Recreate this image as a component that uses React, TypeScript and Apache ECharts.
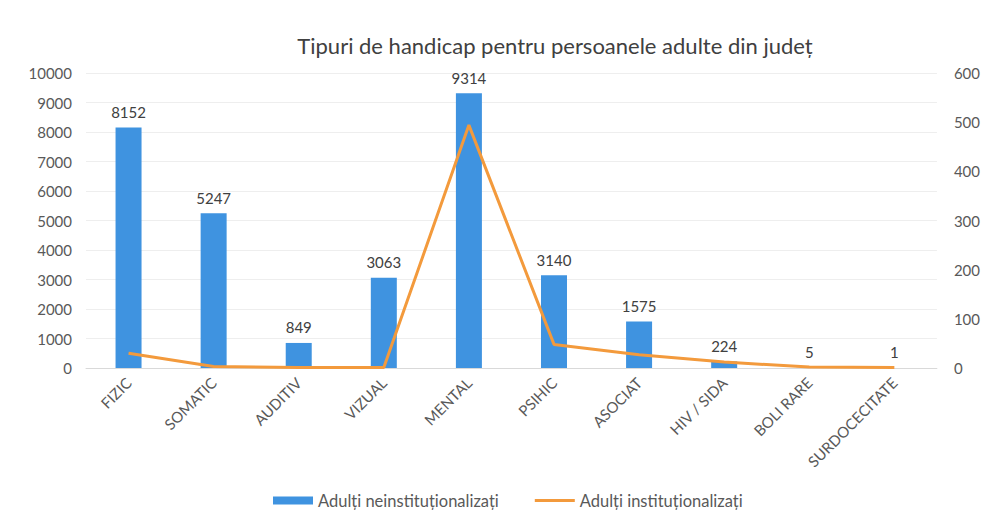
import React, { useEffect, useRef } from "react";
import * as echarts from "echarts";

const categories = ["FIZIC", "SOMATIC", "AUDITIV", "VIZUAL", "MENTAL", "PSIHIC", "ASOCIAT", "HIV / SIDA", "BOLI RARE", "SURDOCECITATE"];
const neinstitutionalizati = [8152, 5247, 849, 3063, 9314, 3140, 1575, 224, 5, 1];
const institutionalizati = [30, 3, 1, 1, 494, 48, 27, 12, 2, 1];
const titleText = "Tipuri de handicap pentru persoanele adulte din județ";
const seriesNames = ["Adulți neinstituționalizați", "Adulți instituționalizați"];

const FONT = "Lato, 'Open Sans', sans-serif";

export default function App() {
  const ref = useRef<HTMLDivElement>(null);
  useEffect(() => {
    if (!ref.current) return;
    const chart = echarts.init(ref.current, undefined, { renderer: "svg" });
    chart.setOption({
      animation: false,
      backgroundColor: "#ffffff",
      textStyle: { fontFamily: FONT },
      title: {
        text: titleText,
        left: 550,
        top: 29,
        textAlign: "center",
        textStyle: { fontSize: 22, fontWeight: "normal", color: "#404040", fontFamily: FONT },
      },
      legend: {
        top: 487,
        left: 268,
        itemGap: 36,
        itemWidth: 40,
        itemHeight: 8,
        textStyle: { fontSize: 16.5, color: "#595959", fontFamily: FONT },
        data: [
          { name: seriesNames[0], icon: "rect" },
          { name: seriesNames[1], icon: "path://M0,0H40V3H0Z" },
        ],
      },
      grid: { left: 86, right: 45, top: 73, bottom: 147, containLabel: false },
      xAxis: {
        type: "category",
        data: categories,
        axisTick: { show: false },
        axisLine: { lineStyle: { color: "#d9d9d9" } },
        axisLabel: { rotate: 45, fontSize: 15, color: "#595959", margin: 12, interval: 0, fontFamily: FONT },
      },
      yAxis: [
        {
          type: "value",
          min: 0,
          max: 10000,
          interval: 1000,
          axisLabel: { fontSize: 15, color: "#595959", margin: 14, fontFamily: FONT, formatter: (v: number) => String(v) },
          splitLine: { lineStyle: { color: "#eeeeee" } },
          axisLine: { show: false },
        },
        {
          type: "value",
          min: 0,
          max: 600,
          interval: 100,
          axisLabel: { fontSize: 15, color: "#595959", margin: 17, fontFamily: FONT, formatter: (v: number) => String(v) },
          splitLine: { show: false },
          axisLine: { show: false },
        },
      ],
      series: [
        {
          name: seriesNames[0],
          type: "bar",
          data: neinstitutionalizati,
          barWidth: 26,
          itemStyle: { color: "#3f93e0" },
          label: { show: true, position: "top", fontSize: 15, color: "#404040", distance: 8, fontFamily: FONT },
        },
        {
          name: seriesNames[1],
          type: "line",
          yAxisIndex: 1,
          data: institutionalizati,
          symbol: "none",
          lineStyle: { color: "#f39a3c", width: 3 },
          itemStyle: { color: "#f39a3c" },
        },
      ],
    });
    return () => chart.dispose();
  }, []);
  return <div ref={ref} style={{ position: "fixed", left: 0, top: 0, width: 983, height: 515 }} />;
}
